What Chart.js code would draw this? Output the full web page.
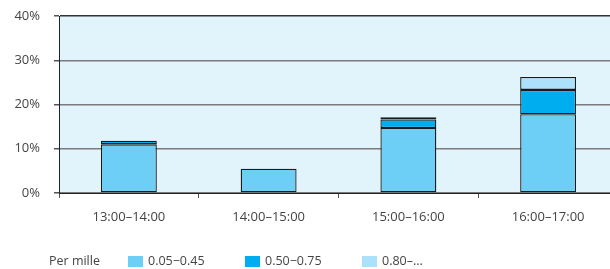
<!DOCTYPE html>
<html>
<head>
<meta charset="utf-8">
<script src="https://cdn.jsdelivr.net/npm/chart.js@4"></script>
<style>
  html, body { margin: 0; padding: 0; background: #fff; overflow: hidden; width: 610px; height: 269px; }
  #wrap { width: 618px; height: 269px; }
</style>
</head>
<body>
<div id="wrap"><canvas id="chart" width="618" height="269"></canvas></div>
<script>
var categories = ['13:00\u201314:00', '14:00\u201315:00', '15:00\u201316:00', '16:00\u201317:00'];
var seriesLabels = ['0.05\u22120.45', '0.50\u22120.75', '0.80\u2013...'];
var lowValues = [11.0, 5.5, 14.7, 17.8];
var midValues = [0.8, 0, 1.9, 5.5];
var highValues = [0, 0, 0.5, 2.9];
var yTicks = [0, 10, 20, 30, 40];
var legendTitle = 'Per mille';

var colors = ['#6dcff6', '#00aeef', '#abe1fa'];
var fontFamily = '"Open Sans", "DejaVu Sans", sans-serif';

var plotBackground = {
    id: 'plotBackground',
    beforeDraw: function (chart) {
        var a = chart.chartArea;
        var ctx = chart.ctx;
        ctx.save();
        ctx.fillStyle = '#e1f3fb';
        ctx.fillRect(a.left, a.top, a.right - a.left, a.bottom - a.top);
        ctx.restore();
    }
};

var customLegend = {
    id: 'customLegend',
    afterDraw: function (chart) {
        var ctx = chart.ctx;
        var y = 261;
        ctx.save();
        ctx.font = '12.5px ' + fontFamily;
        ctx.fillStyle = '#444';
        ctx.textBaseline = 'middle';
        ctx.textAlign = 'left';
        ctx.fillText(legendTitle, 49, y);
        chart.data.datasets.forEach(function (ds, i) {
            var x = 128 + i * 117;
            ctx.fillStyle = ds.backgroundColor;
            ctx.fillRect(x, 256, 15, 11);
            ctx.fillStyle = '#444';
            ctx.fillText(ds.label, x + 20, y);
        });
        ctx.restore();
    }
};

function makeSet(label, values, color) {
    return {
        label: label,
        data: values,
        backgroundColor: color,
        borderColor: '#1a1a1a',
        borderWidth: function (c) { return c.raw ? 1.3 : 0; },
        borderSkipped: false,
        barPercentage: 0.4,
        categoryPercentage: 1
    };
}

new Chart(document.getElementById('chart'), {
    type: 'bar',
    data: {
        labels: categories,
        datasets: [
            makeSet(seriesLabels[0], lowValues, colors[0]),
            makeSet(seriesLabels[1], midValues, colors[1]),
            makeSet(seriesLabels[2], highValues, colors[2])
        ]
    },
    options: {
        responsive: false,
        animation: false,
        layout: { padding: { top: 16, bottom: 36, left: 0, right: 0 } },
        plugins: {
            legend: { display: false },
            tooltip: { enabled: false }
        },
        scales: {
            x: {
                stacked: true,
                afterFit: function (s) {
                    s.height = 40;
                    s.paddingLeft = 0;
                    s.paddingRight = 0;
                },
                grid: {
                    offset: true,
                    drawOnChartArea: false,
                    drawTicks: true,
                    tickLength: 5,
                    color: '#555'
                },
                border: { color: '#222', width: 1 },
                ticks: {
                    color: '#444',
                    padding: 11,
                    font: { family: fontFamily, size: 13 }
                }
            },
            y: {
                stacked: true,
                min: 0,
                max: 40,
                afterFit: function (s) {
                    s.width = 59;
                    s.paddingTop = 0;
                    s.paddingBottom = 0;
                },
                afterBuildTicks: function (s) {
                    s.ticks = yTicks.map(function (v) { return { value: v }; });
                },
                grid: {
                    color: function (c) { return c.tick && c.tick.value === 40 ? '#333' : '#7a7a7a'; },
                    lineWidth: 1.5,
                    tickLength: 5,
                    tickColor: '#555'
                },
                border: { color: '#222', width: 1 },
                ticks: {
                    color: '#444',
                    padding: 14,
                    font: { family: fontFamily, size: 13 },
                    callback: function (v) { return v + '%'; }
                }
            }
        }
    },
    plugins: [plotBackground, customLegend]
});
</script>
</body>
</html>
